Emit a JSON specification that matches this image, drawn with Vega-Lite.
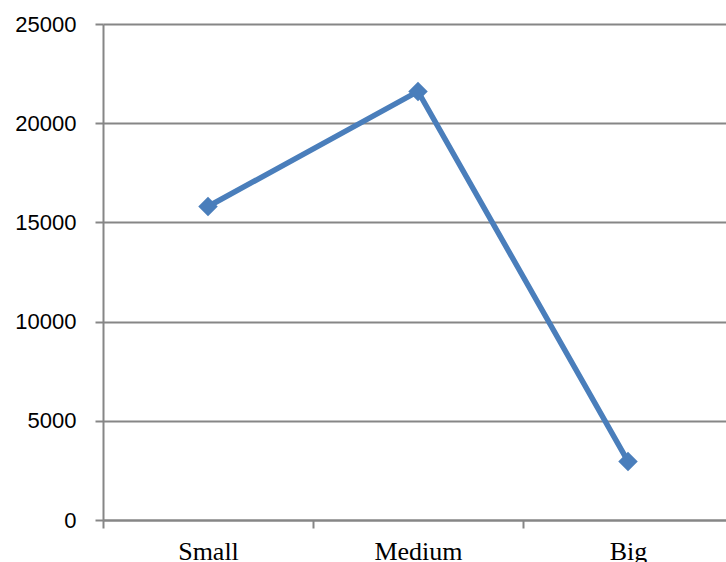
{
  "$schema": "https://vega.github.io/schema/vega-lite/v6.json",
  "autosize": "none",
  "width": 630,
  "height": 496,
  "padding": {"left": 103, "top": 24, "right": 0, "bottom": 42},
  "background": "white",
  "data": {"values": [
    {"size": "Small", "value": 15800},
    {"size": "Medium", "value": 21600},
    {"size": "Big", "value": 2950}
  ]},
  "encoding": {
    "x": {"field": "size", "type": "nominal", "sort": ["Small", "Medium", "Big"],
      "scale": {"paddingInner": 0, "paddingOuter": 0},
      "axis": {"title": null, "tickBand": "extent", "labelAngle": 0, "labelFont": "Liberation Serif", "labelFontSize": 26, "labelColor": "black", "labelPadding": 10, "tickSize": 8, "tickColor": "#868686", "tickWidth": 2, "domainColor": "#868686", "domainWidth": 2, "grid": false, "labelBaseline": "top"}},
    "y": {"field": "value", "type": "quantitative",
      "scale": {"domain": [0, 25000], "nice": false},
      "axis": {"title": null, "values": [0, 5000, 10000, 15000, 20000, 25000], "format": "d", "labelFont": "Liberation Sans", "labelFontSize": 22, "labelColor": "black", "labelPadding": 19, "tickSize": 8, "tickColor": "#868686", "tickWidth": 2, "domainColor": "#868686", "domainWidth": 2, "gridColor": "#868686", "gridWidth": 2, "gridOpacity": 1}}
  },
  "layer": [
    {"mark": {"type": "line", "color": "#4A7EBB", "strokeWidth": 5.5}},
    {"mark": {"type": "point", "shape": "diamond", "filled": true, "color": "#4A7EBB", "size": 380, "opacity": 1}}
  ],
  "config": {"view": {"stroke": null}}
}
